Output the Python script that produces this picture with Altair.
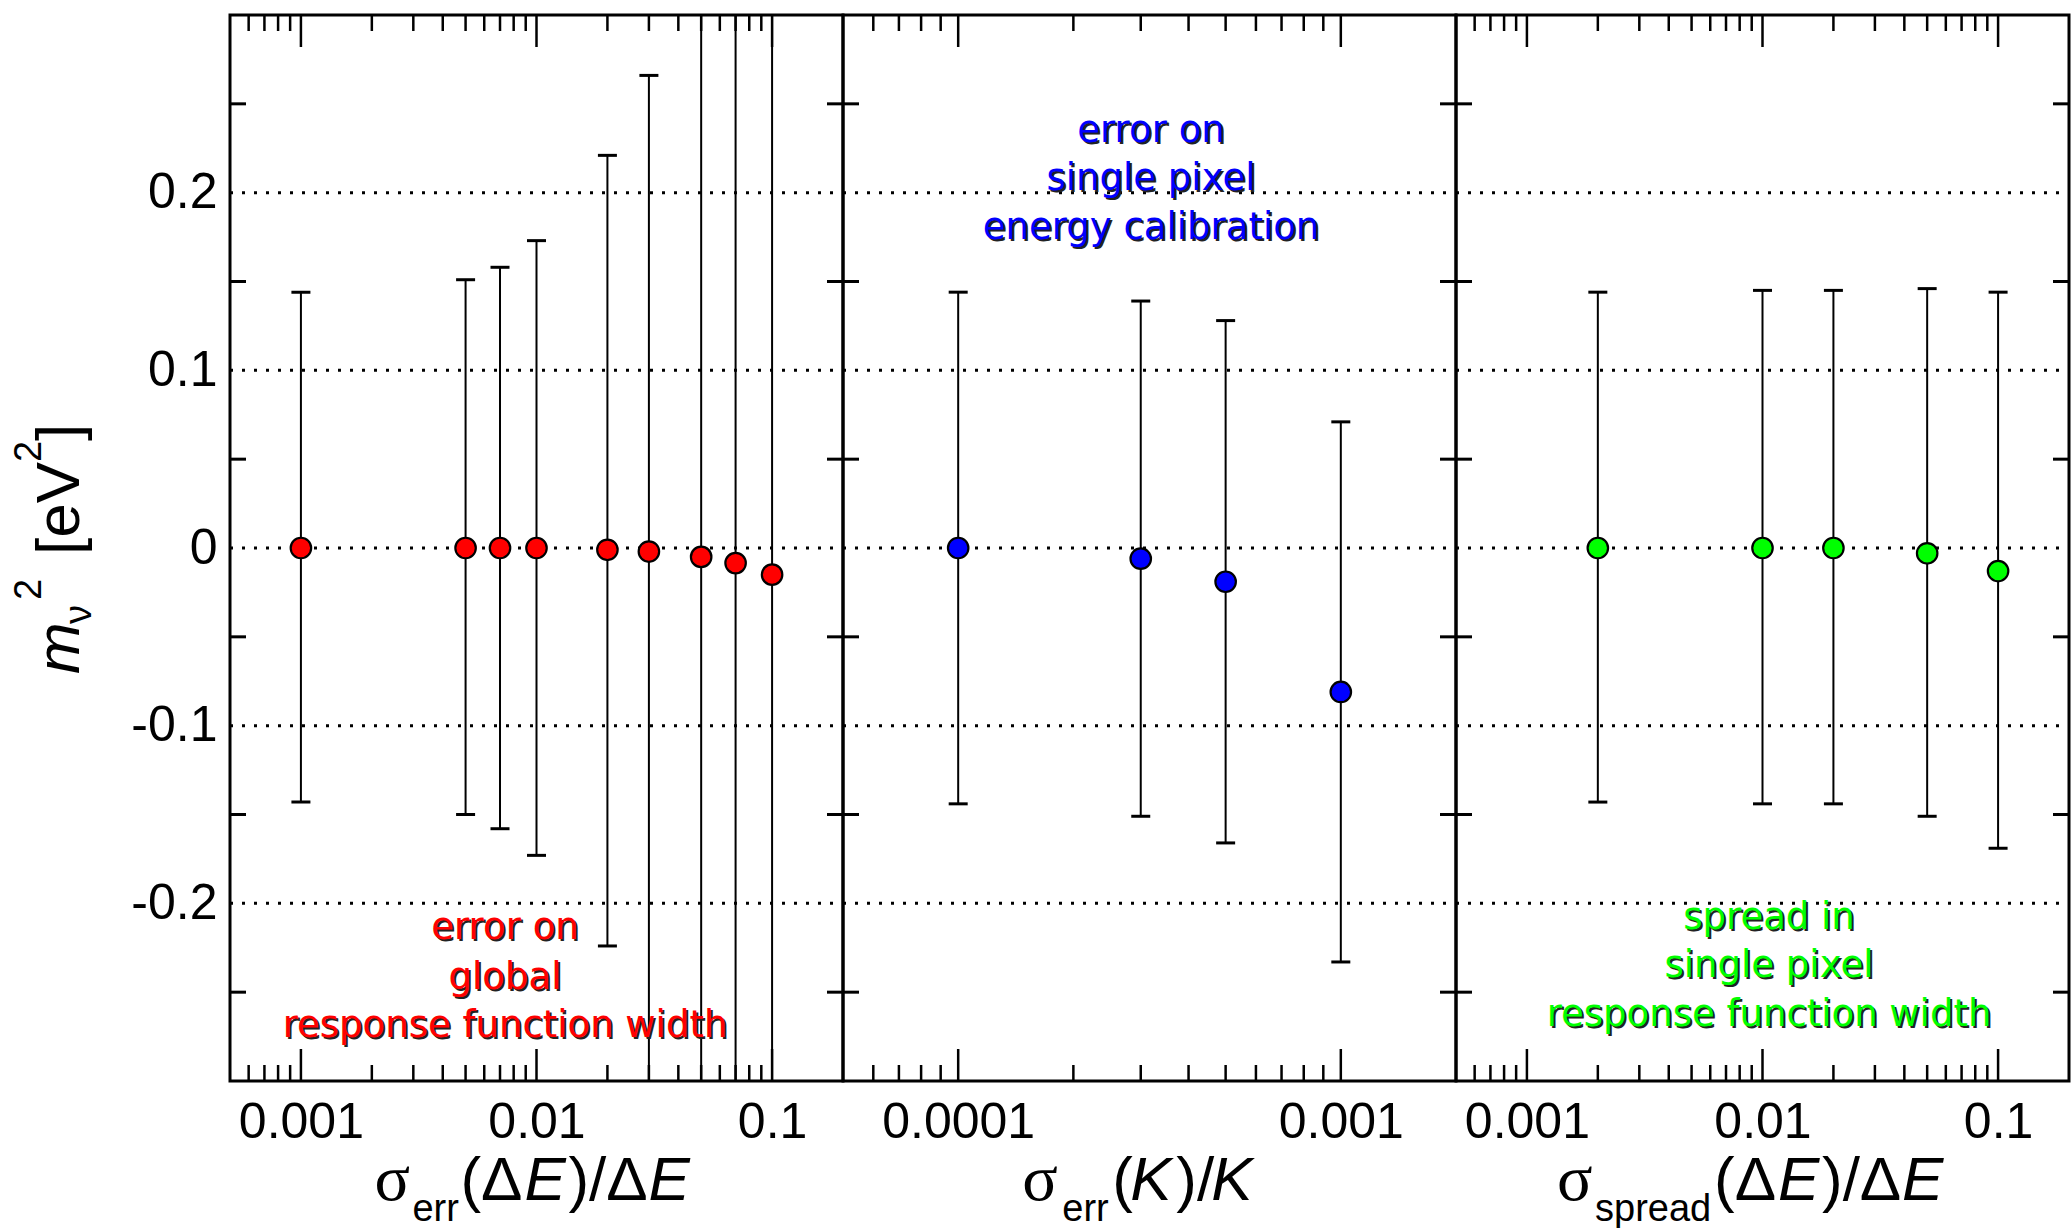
import altair as alt
import pandas as pd

# ---------------- data ----------------
# panel 1: error on global response function width
p1_x = [0.001, 0.005, 0.007, 0.01, 0.02, 0.03, 0.05, 0.07, 0.1]
p1_y = [0.0, 0.0, 0.0, 0.0, -0.001, -0.002, -0.005, -0.0085, -0.015]
p1_hi = [0.144, 0.151, 0.158, 0.173, 0.221, 0.266, 0.45, 0.55, 0.65]
p1_lo = [-0.143, -0.150, -0.158, -0.173, -0.224, -0.33, -0.45, -0.55, -0.65]

# panel 2: error on single pixel energy calibration
p2_x = [0.0001, 0.0003, 0.0005, 0.001]
p2_y = [0.0, -0.006, -0.019, -0.081]
p2_hi = [0.144, 0.139, 0.128, 0.071]
p2_lo = [-0.144, -0.151, -0.166, -0.233]

# panel 3: spread in single pixel response function width
p3_x = [0.002, 0.01, 0.02, 0.05, 0.1]
p3_y = [0.0, 0.0, 0.0, -0.003, -0.013]
p3_hi = [0.144, 0.145, 0.145, 0.146, 0.144]
p3_lo = [-0.143, -0.144, -0.144, -0.151, -0.169]

# axes / ticks
y_grid = [-0.2, -0.1, 0.0, 0.1, 0.2]
y_minor = [-0.25, -0.15, -0.05, 0.05, 0.15, 0.25]
dom_wide = [0.0005, 0.2]
dom_k = [0.00005, 0.002]
major_wide = [0.001, 0.01, 0.1]
minor_wide = [0.0006, 0.0007, 0.0008, 0.0009,
              0.002, 0.003, 0.004, 0.005, 0.006, 0.007, 0.008, 0.009,
              0.02, 0.03, 0.04, 0.05, 0.06, 0.07, 0.08, 0.09]
major_k = [0.0001, 0.001]
minor_k = [0.00006, 0.00007, 0.00008, 0.00009,
           0.0002, 0.0003, 0.0004, 0.0005, 0.0006, 0.0007, 0.0008, 0.0009]

notes1 = ["error on", "global", "response function width"]
notes2 = ["error on", "single pixel", "energy calibration"]
notes3 = ["spread in", "single pixel", "response function width"]

# ---------------- helpers ----------------
W, H = 613, 1066
FONT = "Liberation Sans"
SERIF = "Liberation Serif"
NOTE_FONT = "DejaVu Sans"
ONE = pd.DataFrame({"a": [0]})


def txt(text, x, y, size, color="black", font=FONT, style="normal",
        angle=0, align="left", dx=0, dy=0):
    return alt.Chart(ONE).mark_text(
        text=text, font=font, fontSize=size, fontStyle=style, color=color,
        angle=angle, align=align, baseline="alphabetic", dx=dx, dy=dy
    ).encode(x=alt.value(x), y=alt.value(y))


Y_LABEL_EXPR = ("datum.value == 0 ? '0' : (datum.value < 0 ? '-' + "
                "format(-datum.value, '.1f') : format(datum.value, '.1f'))")


def make_panel(xs, ys, lo, hi, color, xdom, major, minor,
               notes, note_x, note_ys, title_parts, show_y, extra=()):
    xscale = alt.Scale(type="log", domain=xdom, nice=False, zero=False)
    yscale = alt.Scale(domain=[-0.3, 0.3], nice=False, zero=False)
    xaxis = alt.Axis(values=major, format="~g", labelFont=FONT,
                     labelFontSize=50, labelColor="black", labelPadding=16,
                     ticks=False, tickSize=0, domain=False, grid=False,
                     title=None, labelOverlap=False, labelFlush=False)
    if show_y:
        yaxis = alt.Axis(values=y_grid, labelExpr=Y_LABEL_EXPR, labelFont=FONT,
                         labelFontSize=50, labelColor="black", labelPadding=13,
                         ticks=False, tickSize=0, domain=False, grid=False,
                         title=None, labelOverlap=False, labelFlush=False)
    else:
        yaxis = None

    def X(f):
        return alt.X(f, scale=xscale, axis=xaxis)

    def Y(f):
        return alt.Y(f, scale=yscale, axis=yaxis)

    df = pd.DataFrame({"x": xs, "y": ys, "lo": lo, "hi": hi})
    layers = []
    layers.append(
        alt.Chart(pd.DataFrame({"g": y_grid})).mark_rule(
            color="black", strokeWidth=3, strokeDash=[3, 9]
        ).encode(y=Y("g:Q"), x=alt.value(0), x2=alt.value(W))
    )
    layers.append(
        alt.Chart(df).mark_rule(color="black", strokeWidth=2, clip=True)
        .encode(x=X("x:Q"), y=Y("lo:Q"), y2="hi:Q")
    )
    for f in ["lo", "hi"]:
        layers.append(
            alt.Chart(df).mark_tick(color="black", orient="horizontal",
                                    size=19, thickness=3, clip=True, opacity=1)
            .encode(x=X("x:Q"), y=Y(f + ":Q"))
        )
    for vals, L in [(major, 32), (minor, 16)]:
        d = pd.DataFrame({"t": vals})
        layers.append(alt.Chart(d).mark_rule(color="black", strokeWidth=2.5)
                      .encode(x=X("t:Q"), y=alt.value(0), y2=alt.value(L)))
        layers.append(alt.Chart(d).mark_rule(color="black", strokeWidth=2.5)
                      .encode(x=X("t:Q"), y=alt.value(H - L), y2=alt.value(H)))
    dy_ = pd.DataFrame({"v": y_minor})
    layers.append(alt.Chart(dy_).mark_rule(color="black", strokeWidth=3)
                  .encode(y=Y("v:Q"), x=alt.value(0), x2=alt.value(16)))
    layers.append(alt.Chart(dy_).mark_rule(color="black", strokeWidth=3)
                  .encode(y=Y("v:Q"), x=alt.value(W - 16), x2=alt.value(W)))
    # annotation with shadow
    for line, yy in zip(notes, note_ys):
        layers.append(txt(line, note_x, yy, 37, color="#222222", font=NOTE_FONT,
                          align="center", dx=2, dy=2))
        layers.append(txt(line, note_x, yy, 37, color=color, font=NOTE_FONT,
                          align="center"))
    layers.append(
        alt.Chart(df).mark_circle(size=420, color=color, opacity=1,
                                  stroke="black", strokeWidth=2.2)
        .encode(x=X("x:Q"), y=Y("y:Q"))
    )
    # axis title pieces
    for (t, x, y, size, font, style) in title_parts:
        layers.append(txt(t, x, y, size, font=font, style=style))
    layers.extend(extra)
    return alt.layer(*layers).properties(width=W, height=H)


BASE, SUB = 1185, 1206
t1 = [("σ", 144.4, BASE, 66, SERIF, "normal"),
      ("err", 182.4, SUB, 38, FONT, "normal"),
      ("(Δ", 230.4, BASE, 62, FONT, "normal"),
      ("E", 294.4, BASE, 62, FONT, "italic"),
      (")/Δ", 338.4, BASE, 62, FONT, "normal"),
      ("E", 418.4, BASE, 62, FONT, "italic")]
t2 = [("σ", 179.3, BASE, 66, SERIF, "normal"),
      ("err", 219.3, SUB, 38, FONT, "normal"),
      ("(", 269.3, BASE, 62, FONT, "normal"),
      ("K", 287.3, BASE, 62, FONT, "italic"),
      (")/", 333.3, BASE, 62, FONT, "normal"),
      ("K", 368.3, BASE, 62, FONT, "italic")]
t3 = [("σ", 101, BASE, 66, SERIF, "normal"),
      ("spread", 139, SUB, 38, FONT, "normal"),
      ("(Δ", 258, BASE, 62, FONT, "normal"),
      ("E", 322, BASE, 62, FONT, "italic"),
      (")/Δ", 366, BASE, 62, FONT, "normal"),
      ("E", 446, BASE, 62, FONT, "italic")]

# y title (rotated) pieces
ytitle = [
    txt("m", -150.6, 659, 62, style="italic", angle=270),
    txt("ν", -138.6, 609, 38, angle=270),
    txt("2", -188.6, 585, 38, angle=270),
    txt("[eV", -150.6, 540, 62, angle=270),
    txt("2", -188.6, 447, 38, angle=270),
    txt("]", -150.6, 426, 62, angle=270),
    # white anchor fixing the left/top origin of the page
    alt.Chart(ONE).mark_rule(color="white", strokeWidth=1).encode(
        x=alt.value(-228), x2=alt.value(-222), y=alt.value(-12.5),
        y2=alt.value(-12.5)),
]

panel1 = make_panel(p1_x, p1_y, p1_lo, p1_hi, "#ff0000", dom_wide, major_wide,
                    minor_wide, notes1, 275, [924, 974, 1022], t1, True, ytitle)
panel2 = make_panel(p2_x, p2_y, p2_lo, p2_hi, "#0000ff", dom_k, major_k,
                    minor_k, notes2, 308, [127, 175, 224], t2, False)
panel3 = make_panel(p3_x, p3_y, p3_lo, p3_hi, "#00ff00", dom_wide, major_wide,
                    minor_wide, notes3, 313, [914, 962, 1011], t3, False)

chart = alt.hconcat(panel1, panel2, panel3, spacing=0, bounds="flush").resolve_scale(
    x="independent", y="independent"
).properties(padding=0, background="white").configure_view(
    stroke="black", strokeWidth=3
)

chart.save("out.html", embed_options={"renderer": "svg", "actions": False})
